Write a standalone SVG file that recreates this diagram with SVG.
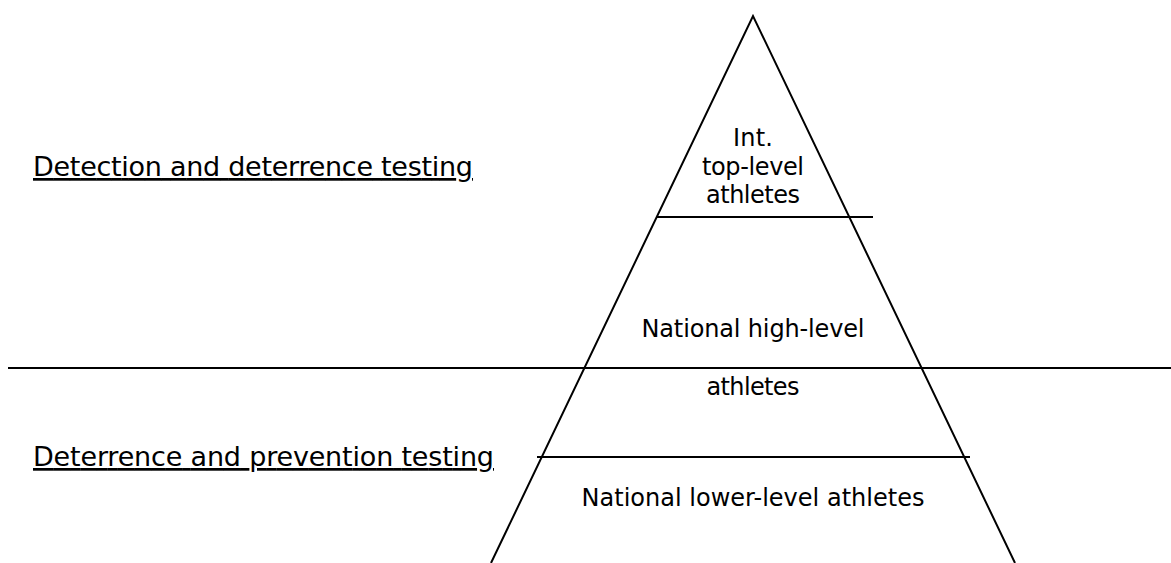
<svg xmlns="http://www.w3.org/2000/svg" width="1171" height="563" viewBox="0 0 1171 563">
<style>
.ln{stroke:#000;stroke-width:2;fill:none}
.lbl{font-family:"DejaVu Sans","Liberation Sans",sans-serif;font-size:27px;fill:#000;text-decoration:underline}
.t{font-family:"DejaVu Sans","Liberation Sans",sans-serif;font-size:24px;fill:#000;text-anchor:middle}
</style>
<rect width="1171" height="563" fill="#fff"/>
<g id="pyramid">
<polyline class="ln" points="491,563 753,16 1015,563"/>
</g>
<g id="connectors">
<line class="ln" x1="657" y1="217" x2="873" y2="217"/>
<line class="ln" x1="8" y1="368" x2="1171" y2="368"/>
<line class="ln" x1="537" y1="457" x2="970" y2="457"/>
</g>
<g id="label-detection">
<text class="lbl" x="33" y="176" textLength="440">Detection and deterrence testing</text>
</g>
<g id="label-deterrence">
<text class="lbl" x="33" y="466" textLength="461">Deterrence and prevention testing</text>
</g>
<g id="tier-top">
<text class="t" x="753" y="146" textLength="40">Int.</text>
<text class="t" x="753" y="175" textLength="102">top-level</text>
<text class="t" x="753" y="203" textLength="94">athletes</text>
</g>
<g id="tier-national-high">
<text class="t" x="753" y="337" textLength="223">National high-level</text>
<text class="t" x="753" y="395" textLength="93">athletes</text>
</g>
<g id="tier-national-lower">
<text class="t" x="753" y="506" textLength="343">National lower-level athletes</text>
</g>
</svg>
